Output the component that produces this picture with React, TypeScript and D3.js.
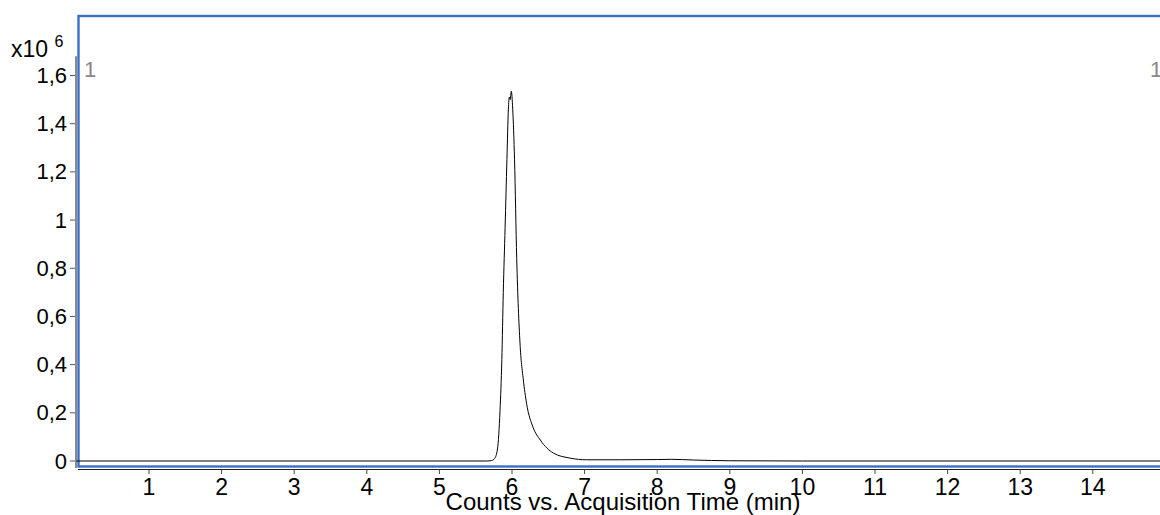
import React, { useRef, useEffect } from "react";
import { select, scaleLinear, line, curveMonotoneX, range } from "d3";

// retention time (min) and counts (x10^6)
const times = [0, 5.65, 5.72, 5.76, 5.8, 5.835, 5.86, 5.88, 5.905, 5.93, 5.95, 5.963, 5.975, 5.99, 6.01, 6.035, 6.065, 6.11, 6.155, 6.2, 6.29, 6.39, 6.57, 6.8, 7.03, 7.5, 8.0, 8.2, 8.5, 9.0, 10, 14.95];
const counts = [0, 0, 0.002, 0.01, 0.05, 0.21, 0.42, 0.7, 0.97, 1.25, 1.46, 1.51, 1.5, 1.535, 1.46, 1.25, 0.84, 0.49, 0.34, 0.24, 0.14, 0.087, 0.033, 0.012, 0.005, 0.005, 0.006, 0.007, 0.004, 0.001, 0, 0];
const xTicks = range(1, 15);
const yTicks = [0, 0.2, 0.4, 0.6, 0.8, 1, 1.2, 1.4, 1.6];
const xTitle = "Counts vs. Acquisition Time (min)";

const W = 1160;
const H = 515;
const FONT = "'Liberation Sans', Arial, sans-serif";

function App() {
  const svgRef = useRef<SVGSVGElement>(null);
  useEffect(() => {
    const svg = select(svgRef.current);
    svg.selectAll("*").remove();
    const xScale = scaleLinear().domain([0, 14]).range([76.4, 1092.8]);
    const yScale = scaleLinear().domain([0, 1.6]).range([461, 75.5]);

    // blue frame
    svg.append("rect")
      .attr("x", 78.5).attr("y", 16)
      .attr("width", 1200).attr("height", 450.5)
      .attr("fill", "none").attr("stroke", "#3a6fc9").attr("stroke-width", 2.4);

    // left gray axis
    svg.append("line")
      .attr("x1", 76).attr("x2", 76)
      .attr("y1", yScale(1.68)).attr("y2", 468)
      .attr("stroke", "#8a8a8a").attr("stroke-width", 2);
    svg.selectAll(".ytick").data(yTicks).join("line")
      .attr("class", "ytick")
      .attr("x1", 70).attr("x2", 75)
      .attr("y1", d => yScale(d)).attr("y2", d => yScale(d))
      .attr("stroke", "#555").attr("stroke-width", 1);
    svg.selectAll(".ylab").data(yTicks).join("text")
      .attr("class", "ylab")
      .attr("x", 67).attr("y", d => yScale(d))
      .attr("text-anchor", "end").attr("dominant-baseline", "central")
      .attr("font-family", FONT).attr("font-size", 22).attr("fill", "#000")
      .text(d => String(d).replace(".", ","));

    // bottom axis
    svg.append("line")
      .attr("x1", 78).attr("x2", W)
      .attr("y1", 469.5).attr("y2", 469.5)
      .attr("stroke", "#222").attr("stroke-width", 1);
    svg.selectAll(".xtick").data(xTicks).join("line")
      .attr("class", "xtick")
      .attr("x1", d => xScale(d)).attr("x2", d => xScale(d))
      .attr("y1", 469.5).attr("y2", 474)
      .attr("stroke", "#444").attr("stroke-width", 1);
    svg.selectAll(".xlab").data(xTicks).join("text")
      .attr("class", "xlab")
      .attr("x", d => xScale(d)).attr("y", 495)
      .attr("text-anchor", "middle")
      .attr("font-family", FONT).attr("font-size", 23).attr("fill", "#000")
      .text(d => String(d));
    svg.append("text")
      .attr("x", 623).attr("y", 510)
      .attr("text-anchor", "middle")
      .attr("font-family", FONT).attr("font-size", 24).attr("fill", "#000")
      .text(xTitle);

    // multiplier
    const mult = svg.append("text")
      .attr("x", 11).attr("y", 57)
      .attr("font-family", FONT).attr("font-size", 23).attr("fill", "#000");
    mult.append("tspan").text("x10 ");
    mult.append("tspan").attr("font-size", 16).attr("dy", -10).text("6");

    // trace labels
    svg.selectAll(".tlab").data([84, 1150]).join("text")
      .attr("class", "tlab")
      .attr("x", d => d).attr("y", 77)
      .attr("font-family", FONT).attr("font-size", 22).attr("fill", "#888")
      .text("1");

    // trace
    const pts = times.map((t, i) => [t, counts[i]] as [number, number]);
    const trace = line<[number, number]>()
      .x(d => xScale(d[0]))
      .y(d => yScale(d[1]))
      .curve(curveMonotoneX);
    svg.append("path")
      .datum(pts)
      .attr("d", trace)
      .attr("fill", "none")
      .attr("stroke", "#000")
      .attr("stroke-width", 1);
  }, []);

  return (
    <svg
      ref={svgRef}
      width={W}
      height={H}
      style={{ position: "absolute", left: 0, top: 0, background: "#fff" }}
    />
  );
}

export default App;
